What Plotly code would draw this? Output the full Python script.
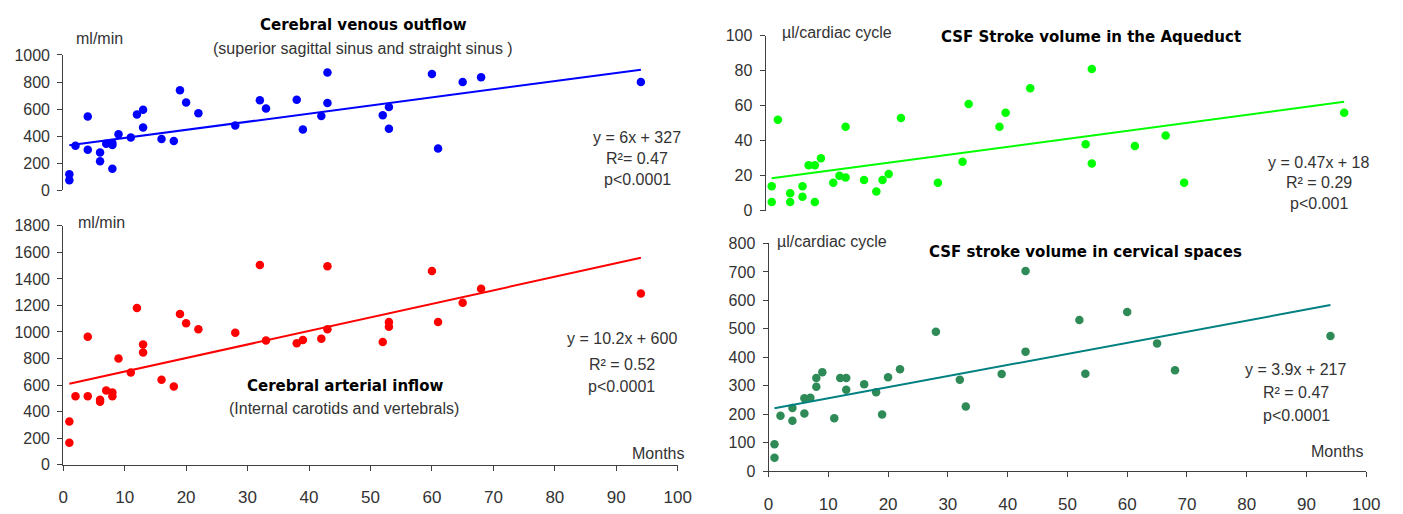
import plotly.graph_objects as go

W, H = 1403, 514

# ---------------- data ----------------
venous_months = [1, 1, 2, 4, 4, 6, 6, 7, 8, 8, 8, 9, 11, 12, 13, 13, 16, 18, 19, 20, 22, 28, 32, 33, 38, 39, 42, 43, 43, 52, 53, 53, 60, 61, 65, 68, 94]
venous_flow = [120, 75, 330, 545, 300, 280, 215, 345, 350, 335, 160, 415, 390, 560, 595, 465, 380, 365, 740, 650, 570, 480, 665, 605, 670, 450, 550, 870, 645, 555, 615, 455, 860, 310, 800, 835, 800]
venous_fit = (6.0, 327.0)

art_months = [1, 1, 2, 4, 4, 6, 6, 7, 8, 8, 9, 11, 12, 13, 13, 16, 18, 19, 20, 22, 28, 32, 33, 38, 39, 42, 43, 43, 52, 53, 53, 60, 61, 65, 68, 94]
art_flow = [325, 165, 515, 965, 515, 490, 475, 560, 545, 515, 800, 695, 1180, 905, 845, 640, 590, 1135, 1065, 1020, 995, 1505, 935, 915, 940, 950, 1495, 1020, 925, 1075, 1040, 1460, 1075, 1220, 1325, 1290]
art_fit = (10.2, 600.0)

aq_months = [1, 1, 2, 4, 4, 6, 6, 7, 8, 8, 9, 11, 12, 13, 13, 16, 18, 19, 20, 22, 28, 32, 33, 38, 39, 43, 52, 53, 53, 60, 65, 68, 94]
aq_volume = [14, 5, 52, 10, 5, 14, 8, 26, 26, 5, 30, 16, 20, 19, 48, 17.5, 11, 17.5, 21, 53, 16, 28, 61, 48, 56, 70, 38, 27, 81, 37, 43, 16, 56]
aq_fit = (0.47, 18.0)

cerv_months = [1, 1, 2, 4, 4, 6, 6, 7, 8, 8, 9, 11, 12, 13, 13, 16, 18, 19, 20, 22, 28, 32, 33, 39, 43, 43, 52, 53, 60, 65, 68, 94]
cerv_volume = [95, 47, 195, 222, 177, 256, 203, 258, 297, 327, 348, 186, 327, 327, 286, 305, 277, 199, 330, 358, 490, 321, 227, 341, 703, 420, 531, 342, 559, 449, 355, 475]
cerv_fit = (3.9, 217.0)

x_ticks = list(range(0, 101, 10))

# ---------------- helpers ----------------
def px(x):
    return x / W

def py(y):
    return 1 - y / H

AX = "#404040"
TXT = "#333333"
FONT = "Liberation Sans, Arial, sans-serif"
BOLD = "DejaVu Sans, Verdana, sans-serif"

fig = go.Figure()

def add_panel(idx, xs, ys, fit, mcolor, lcolor):
    xa = "x" if idx == 1 else f"x{idx}"
    ya = "y" if idx == 1 else f"y{idx}"
    fig.add_trace(go.Scatter(x=xs, y=ys, mode="markers", xaxis=xa, yaxis=ya,
                             marker=dict(color=mcolor, size=8.5, line=dict(width=0)),
                             showlegend=False, hoverinfo="x+y"))
    x0, x1 = min(xs), max(xs)
    a, b = fit
    fig.add_trace(go.Scatter(x=[x0, x1], y=[a * x0 + b, a * x1 + b], mode="lines",
                             xaxis=xa, yaxis=ya, line=dict(color=lcolor, width=2),
                             showlegend=False, hoverinfo="skip"))

add_panel(1, venous_months, venous_flow, venous_fit, "#0000FF", "#0000FF")
add_panel(2, art_months, art_flow, art_fit, "#FF0000", "#FF0000")
add_panel(3, aq_months, aq_volume, aq_fit, "#00FF00", "#00FF00")
add_panel(4, cerv_months, cerv_volume, cerv_fit, "#2E8B57", "#008080")

def yaxis(domain_px, rng, dtick, anchor):
    return dict(domain=[py(domain_px[0]), py(domain_px[1])], range=rng, dtick=dtick,
                tick0=0, showgrid=False, zeroline=False, showline=True, linecolor=AX,
                linewidth=1, ticks="outside", ticklen=5, tickcolor=AX,
                tickfont=dict(family=FONT, size=16, color=TXT), anchor=anchor,
                ticklabelstandoff=4, fixedrange=True)

def xaxis(domain_px, anchor, visible):
    d = dict(domain=[px(domain_px[0]), px(domain_px[1])], range=[0, 100], anchor=anchor,
             showgrid=False, zeroline=False, fixedrange=True)
    if visible:
        d.update(showline=True, linecolor=AX, linewidth=1, ticks="outside", ticklen=5,
                 tickcolor=AX, tickvals=x_ticks,
                 tickfont=dict(family=FONT, size=17, color=TXT), ticklabelstandoff=12)
    else:
        d.update(visible=False)
    return d

fig.update_layout(
    width=W, height=H, margin=dict(l=0, r=0, t=0, b=0),
    paper_bgcolor="white", plot_bgcolor="white",
    xaxis=xaxis((59, 682), "y", False),
    yaxis=yaxis((189, 48.7), [0, 1000], 200, "x"),
    xaxis2=xaxis((59, 682), "y2", True),
    yaxis2=yaxis((473.3, 225.7), [0, 1800], 200, "x2"),
    xaxis3=xaxis((771, 1395), "y3", False),
    yaxis3=yaxis((210, 28.7), [0, 100], 20, "x3"),
    xaxis4=xaxis((774, 1380), "y4", True),
    yaxis4=yaxis((480, 244), [0, 800], 100, "x4"),
)

def note(text, x, y, anchor="center", size=16, bold=False):
    fig.add_annotation(text=text, x=px(x), y=py(y), xref="paper", yref="paper",
                       xanchor=anchor, yanchor="middle", showarrow=False,
                       font=dict(family=BOLD if bold else FONT, size=15 if bold else size,
                                 color="#000000" if bold else TXT))

# top-left
note("ml/min", 70, 32, "left")
note("<b>Cerebral venous outflow</b>", 363, 18, bold=True)
note("(superior sagittal sinus and straight sinus )", 363, 42)
note("y = 6x + 327", 641, 134)
note("R²= 0.47", 641, 156)
note("p<0.0001", 641, 178)

# bottom-left
note("ml/min", 72, 222, "left")
note("<b>Cerebral arterial inflow</b>", 345, 392, bold=True)
note("(Internal carotids and vertebrals)", 344, 415)
note("y = 10.2x + 600", 625, 343)
note("R² = 0.52", 625, 369)
note("p<0.0001", 625, 392)
note("Months", 690, 462, "right")

# top-right
note("µl/cardiac cycle", 786, 25, "left")
note("<b>CSF Stroke volume in the Aqueduct</b>", 1101, 30, bold=True)
note("y = 0.47x + 18", 1332, 160)
note("R² = 0.29", 1332, 181)
note("p<0.001", 1332, 203)

# bottom-right
note("µl/cardiac cycle", 781, 242, "left")
note("<b>CSF stroke volume in cervical spaces</b>", 1095, 253, bold=True)
note("y = 3.9x + 217", 1309, 375)
note("R² = 0.47", 1309, 398)
note("p<0.0001", 1309, 422)
note("Months", 1379, 460, "right")

fig.write_html("out.html", config={"displayModeBar": False},
               post_script="document.body.style.margin='0';document.body.style.overflow='hidden';")
